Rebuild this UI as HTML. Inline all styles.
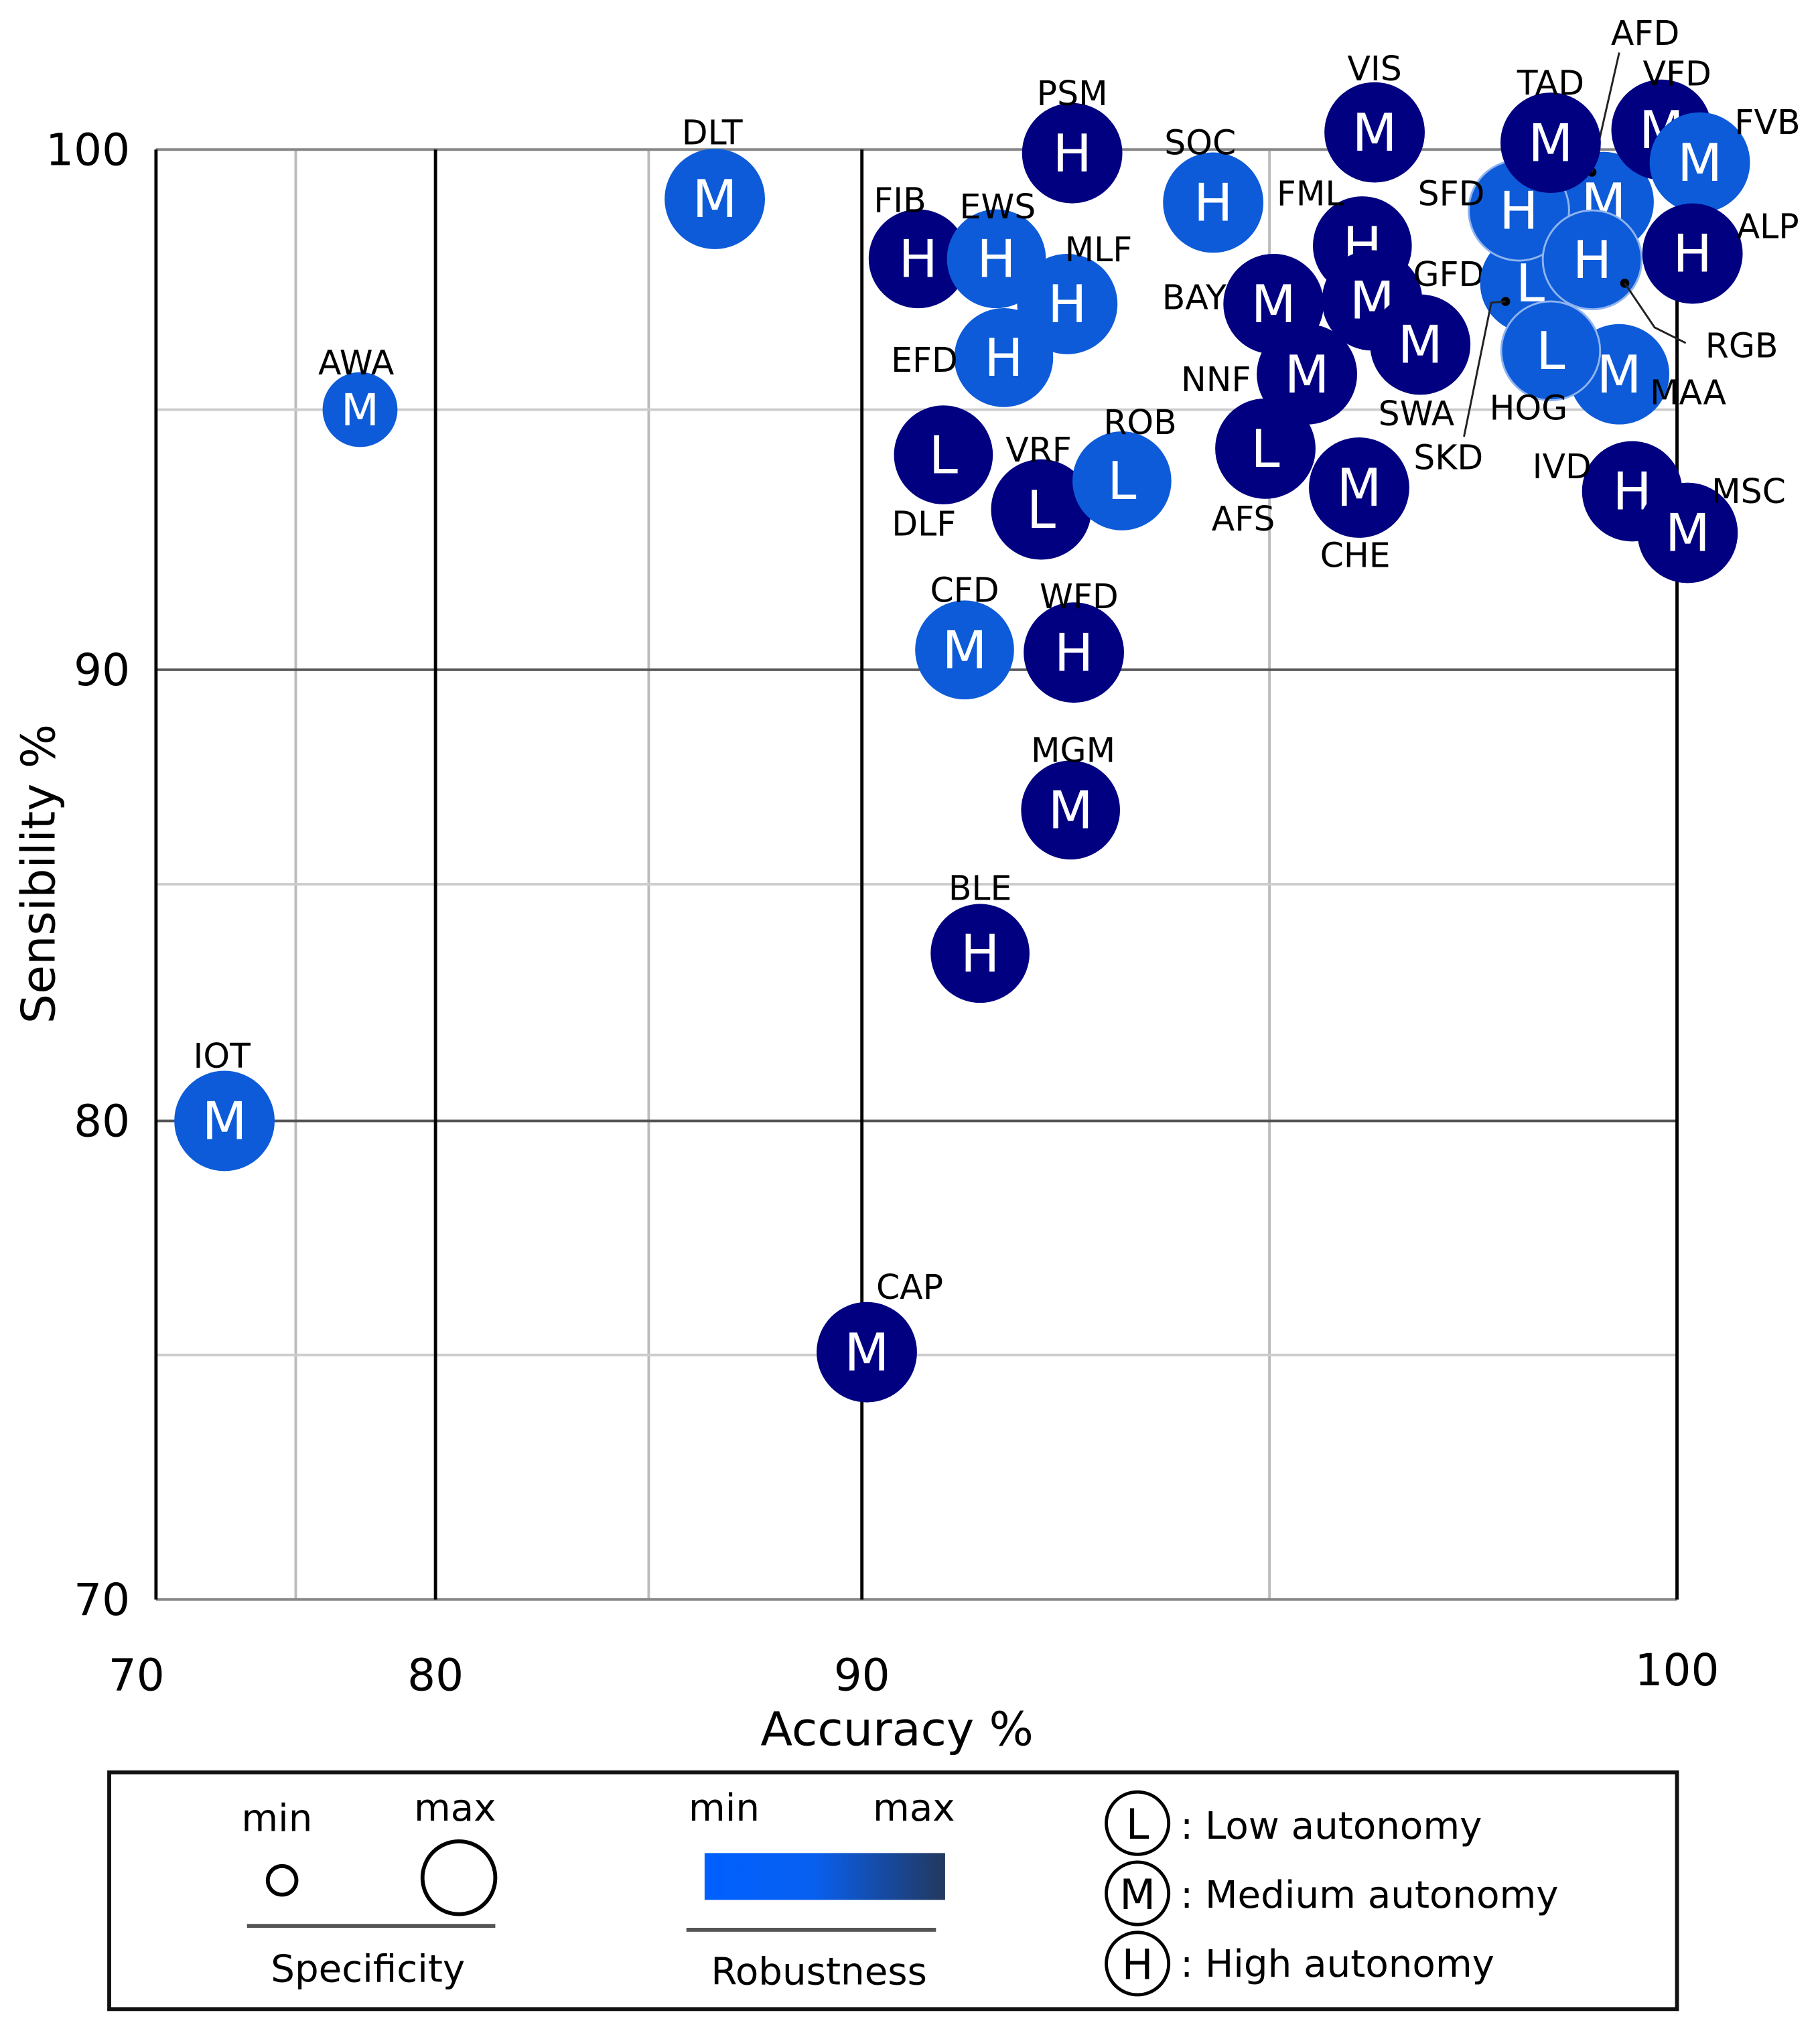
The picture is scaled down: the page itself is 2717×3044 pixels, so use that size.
<!DOCTYPE html>
<html><head><meta charset="utf-8"><style>
html,body{margin:0;padding:0;background:#fff;}
svg{display:block;font-family:"DejaVu Sans","Liberation Sans",sans-serif;}
</style></head><body>
<svg id="chart" width="2717" height="3044" viewBox="0 0 1400 1568" preserveAspectRatio="none" xmlns="http://www.w3.org/2000/svg">
<defs>
<linearGradient id="rob" x1="0" x2="1" y1="0" y2="0">
<stop offset="0" stop-color="#0060ff"/><stop offset="0.45" stop-color="#0860f0"/><stop offset="1" stop-color="#23385e"/>
</linearGradient>
</defs>
<g id="grid"></g>
<g id="bubbles"></g>
<g id="axes"></g>
<g>
<rect x="84" y="1363" width="1206" height="182" fill="none" stroke="#111" stroke-width="3"/>
<text x="213" y="1408" font-size="29" text-anchor="middle">min</text>
<text x="350" y="1400" font-size="29" text-anchor="middle">max</text>
<circle cx="217" cy="1446" r="11" fill="none" stroke="#000" stroke-width="3"/>
<circle cx="353" cy="1444" r="28" fill="none" stroke="#000" stroke-width="3"/>
<line x1="190" y1="1481" x2="381" y2="1481" stroke="#555" stroke-width="3"/>
<text x="283" y="1524" font-size="29" text-anchor="middle">Specificity</text>
<text x="557" y="1400" font-size="29" text-anchor="middle">min</text>
<text x="703" y="1400" font-size="29" text-anchor="middle">max</text>
<rect x="542" y="1425" width="185" height="36" fill="url(#rob)"/>
<line x1="528" y1="1484" x2="720" y2="1484" stroke="#555" stroke-width="3"/>
<text x="630" y="1526" font-size="29" text-anchor="middle">Robustness</text>
<g><circle cx="875" cy="1402" r="24" fill="none" stroke="#000" stroke-width="2.5"/><text x="875" y="1414" font-size="32" text-anchor="middle">L</text><text x="908" y="1414" font-size="29">: Low autonomy</text></g>
<g><circle cx="875" cy="1456" r="24" fill="none" stroke="#000" stroke-width="2.5"/><text x="875" y="1468" font-size="32" text-anchor="middle">M</text><text x="908" y="1467" font-size="29">: Medium autonomy</text></g>
<g><circle cx="875" cy="1510" r="24" fill="none" stroke="#000" stroke-width="2.5"/><text x="875" y="1522" font-size="32" text-anchor="middle">H</text><text x="908" y="1520" font-size="29">: High autonomy</text></g>
</g>
</svg>
<script>
// data arrays (draw order)
const names = ["DLT","AWA","IOT","PSM","SOC","FIB","EWS","MLF","EFD","DLF","VRF","ROB","CFD","WFD","MGM","BLE","CAP",
 "FML","GFD","SWA","BAY","NNF","AFS","CHE","VIS",
 "SKD","AFD","SFD","TAD","MAA","HOG","RGB","VFD","FVB","ALP","IVD","MSC"];
const accuracy = [86.55,77.3,72.45,92.58,94.31,90.69,91.65,92.52,91.74,91.0,92.2,93.19,91.26,92.6,92.56,91.45,90.06,
 96.14,96.26,96.85,95.05,95.46,94.95,96.1,96.29,
 98.2,99.1,98.06,98.45,99.29,98.45,98.96,99.81,100.28,100.19,99.45,100.13];
const sensibility = [99.05,95.0,80.0,99.93,98.98,97.9,97.9,97.03,96.0,94.13,93.08,93.63,90.38,90.33,86.73,83.54,75.06,
 98.15,97.1,96.25,97.03,95.68,94.25,93.5,100.33,
 97.43,98.99,98.83,100.13,95.68,96.13,97.88,100.38,99.75,98.0,93.43,92.63];
const specificity = [0.95,0.6,0.95,0.95,0.95,0.93,0.93,0.95,0.93,0.93,0.95,0.93,0.93,0.95,0.93,0.93,0.95,
 0.93,0.95,0.95,0.95,0.95,0.95,0.95,0.95,
 0.95,0.95,0.95,0.95,0.95,0.93,0.93,0.95,0.95,0.95,0.95,0.95];
const robustHigh = [0,0,0,1,0,1,0,0,0,1,1,0,0,1,1,1,1, 1,1,1,1,1,1,1,1, 0,0,0,1,0,0,0,1,0,1,1,1];
const autonomy = ["M","M","M","H","H","H","H","H","H","L","L","L","M","H","M","H","M",
 "H","M","M","M","M","L","M","M", "L","M","H","M","M","L","H","M","M","H","H","M"];
const xTicks=[70,80,90,100], yTicks=[70,80,90,100];
const xMinor=[75,85,95], yMinor=[75,85,95];

// label layout offsets (relative to bubble)
const labelOff = {DLT:[-2,-43],AWA:[-3,-28],IOT:[-2,-42],PSM:[0,-38],SOC:[-10,-38],FIB:[-14,-37],EWS:[1,-32],MLF:[24,-34],
 EFD:[-61,10],DLF:[-15,61],VRF:[-2,-38],ROB:[14,-37],CFD:[0,-38],WFD:[4,-35],MGM:[2,-38],BLE:[0,-42],CAP:[33,-42],
 FML:[-40,-32],GFD:[59,-12],SWA:[-3,61],BAY:[-61,3],NNF:[-70,12],AFS:[-17,62],CHE:[-3,60],VIS:[0,-41],
 SKD:[-63,142],AFD:[32,-122],SFD:[-52,-5],TAD:[0,-38],MAA:[53,22],HOG:[-17,52],RGB:[115,74],VFD:[12,-35],FVB:[52,-23],ALP:[58,-13],IVD:[-54,-11],MSC:[47,-24]};
const leaders = {AFD:[[-9,-23],[-9,-23],[12,-115]],RGB:[[25,18],[25,18],[48,52],[72,64]],SKD:[[-19,14],[-19,14],[-30,15],[-51,118]]};

const XB=[70,80,90,100], XP=[120,335,663,1290];
const YB=[70,75,80,85,90,95,100], YP=[1230,1042,862,680,515,315,115];
function pw(v,B,P){let i=0;while(i<B.length-2&&v>B[i+1])i++;return P[i]+(v-B[i])/(B[i+1]-B[i])*(P[i+1]-P[i]);}
const X=v=>pw(v,XB,XP), Y=v=>pw(v,YB,YP), R=s=>12+s*28;
const NS="http://www.w3.org/2000/svg";
function el(t,a,p){const e=document.createElementNS(NS,t);for(const k in a)e.setAttribute(k,a[k]);p.appendChild(e);return e;}
const grid=document.getElementById('grid'), axes=document.getElementById('axes'), bub=document.getElementById('bubbles');
xMinor.forEach(v=>{const l=el('line',{x1:X(v),x2:X(v),y1:115,y2:1230,stroke:'#bbb','stroke-width':2},grid);

});
yMinor.forEach(v=>{const l=el('line',{x1:120,x2:1290,y1:Y(v),y2:Y(v),stroke:'#ccc','stroke-width':2},grid);

});
yTicks.forEach(v=>{const l=el('line',{x1:120,x2:1290,y1:Y(v),y2:Y(v),stroke:(v==100||v==70)?'#888':'#555','stroke-width':2},grid);


const t=el('text',{x:100,y:Y(v)+12,'font-size':34,'text-anchor':'end'},axes);t.textContent=v;

});
xTicks.forEach(v=>{const l=el('line',{x1:X(v),x2:X(v),y1:115,y2:1230,stroke:'#000','stroke-width':2.5},grid);


const t=el('text',{x:X(v)+(v==70?-15:0),y:v==100?1296:1300,'font-size':34,'text-anchor':'middle'},axes);t.textContent=v;

});
let xt=el('text',{x:690,y:1342,'font-size':36,'text-anchor':'middle'},axes);xt.textContent='Accuracy %';


let yt=el('text',{x:42,y:672,'font-size':36,'text-anchor':'middle',transform:'rotate(-90 42 672)'},axes);yt.textContent='Sensibility %';



names.forEach((n,i)=>{
 const cx=X(accuracy[i]), cy=Y(sensibility[i]), r=R(specificity[i]);
 const g=el('g',{},bub);
 
 
 const outline=(n=='RGB'||n=='HOG'||n=='SFD');
 el('circle',{cx:cx,cy:cy,r:r,fill:robustHigh[i]?'#000080':'#0d5bd8',stroke:outline?'#8fb4f0':'none','stroke-width':1.5},g);
 const t=el('text',{x:cx,y:cy+(r>30?14:12),'font-size':r>30?40:34,fill:'#fff','text-anchor':'middle'},g);t.textContent=autonomy[i];
 const o=labelOff[n];
 const lb=el('text',{x:cx+o[0],y:cy+o[1]+1,'font-size':26,'text-anchor':'middle'},g);lb.textContent=n;
 if(leaders[n]){const L=leaders[n];
  el('circle',{cx:cx+L[0][0],cy:cy+L[0][1],r:3.5,fill:'#000'},g);
  el('polyline',{points:L.slice(1).map(p=>(cx+p[0])+','+(cy+p[1])).join(' '),fill:'none',stroke:'#222','stroke-width':1.5},g);}
});
</script>
</body></html>
